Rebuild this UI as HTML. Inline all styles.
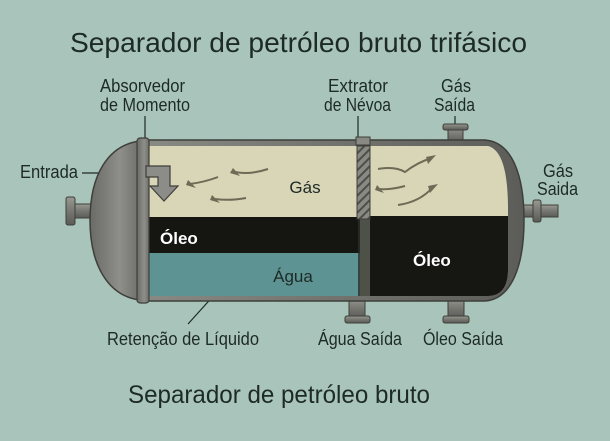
<!DOCTYPE html>
<html><head><meta charset="utf-8"><style>
html,body{margin:0;padding:0;background:#a9c5bb;}
svg{display:block;}
text{font-family:"Liberation Sans",sans-serif;}
</style></head><body>
<svg width="610" height="441" viewBox="0 0 610 441" xmlns="http://www.w3.org/2000/svg">
<defs>
<linearGradient id="steel" x1="0" y1="0" x2="0" y2="1">
<stop offset="0" stop-color="#9a9a94"/><stop offset="0.4" stop-color="#7d7d78"/><stop offset="1" stop-color="#5a5a56"/>
</linearGradient>
<linearGradient id="capL" x1="0" y1="0" x2="1" y2="0">
<stop offset="0" stop-color="#6a6a66"/><stop offset="0.6" stop-color="#8f8f8a"/><stop offset="1" stop-color="#6e6e6a"/>
</linearGradient>
<linearGradient id="capR" x1="0" y1="0" x2="1" y2="0">
<stop offset="0" stop-color="#8a8a85"/><stop offset="1" stop-color="#5c5c58"/>
</linearGradient>
<pattern id="hatch" width="6" height="6" patternUnits="userSpaceOnUse" patternTransform="rotate(45)">
<rect width="6" height="6" fill="#8a8a84"/><rect width="2" height="6" fill="#4e4e4a"/>
</pattern>
</defs>
<rect width="610" height="441" fill="#a9c5bb"/>
<text x="70" y="52" font-size="28" fill="#1d2a26" textLength="457" lengthAdjust="spacingAndGlyphs">Separador de petróleo bruto trifásico</text>

<g font-size="18" fill="#1d2a26">
<text x="100" y="92" textLength="85" lengthAdjust="spacingAndGlyphs">Absorvedor</text>
<text x="100" y="111" textLength="90" lengthAdjust="spacingAndGlyphs">de Momento</text>
<text x="328" y="92" textLength="60" lengthAdjust="spacingAndGlyphs">Extrator</text>
<text x="324" y="111" textLength="67" lengthAdjust="spacingAndGlyphs">de Névoa</text>
<text x="441" y="92" textLength="30" lengthAdjust="spacingAndGlyphs">Gás</text>
<text x="434" y="111" textLength="41" lengthAdjust="spacingAndGlyphs">Saída</text>
<text x="543" y="177" textLength="30" lengthAdjust="spacingAndGlyphs">Gás</text>
<text x="537" y="195" textLength="41" lengthAdjust="spacingAndGlyphs">Saida</text>
<text x="20" y="178" textLength="58" lengthAdjust="spacingAndGlyphs">Entrada</text>
<text x="107" y="345" textLength="152" lengthAdjust="spacingAndGlyphs">Retenção de Líquido</text>
<text x="318" y="345" textLength="84" lengthAdjust="spacingAndGlyphs">Água Saída</text>
<text x="423" y="345" textLength="80" lengthAdjust="spacingAndGlyphs">Óleo Saída</text>
</g>
<text x="128" y="403" font-size="25" fill="#1d2a26" textLength="302" lengthAdjust="spacingAndGlyphs">Separador de petróleo bruto</text>

<g stroke="#1d2a26" stroke-width="1.2">
<line x1="145" y1="116" x2="145" y2="141"/>
<line x1="358" y1="116" x2="358" y2="141"/>
<line x1="455" y1="116" x2="455" y2="126"/>
<line x1="82" y1="173" x2="105" y2="173"/>
<line x1="188" y1="324" x2="225" y2="283"/>
</g>

<rect x="70" y="204" width="30" height="14" fill="url(#steel)" stroke="#3e3e3a"/>
<rect x="66" y="197" width="9" height="28" rx="2" fill="url(#steel)" stroke="#3e3e3a"/>
<rect x="518" y="205" width="40" height="12" fill="url(#steel)" stroke="#3e3e3a"/>
<rect x="533" y="200" width="8" height="22" rx="2" fill="url(#steel)" stroke="#3e3e3a"/>
<rect x="448" y="127" width="15" height="16" fill="url(#steel)" stroke="#3e3e3a"/>
<rect x="443" y="124" width="25" height="6" rx="2" fill="url(#steel)" stroke="#3e3e3a"/>
<rect x="349" y="298" width="16" height="20" fill="url(#steel)" stroke="#3e3e3a"/>
<rect x="345" y="316" width="25" height="7" rx="2" fill="url(#steel)" stroke="#3e3e3a"/>
<rect x="448" y="298" width="16" height="20" fill="url(#steel)" stroke="#3e3e3a"/>
<rect x="443" y="316" width="26" height="7" rx="2" fill="url(#steel)" stroke="#3e3e3a"/>

<path d="M140,141 C108,145 90,175 90,220 C90,265 108,296 140,300 Z" fill="url(#capL)" stroke="#3e3e3a" stroke-width="1.5"/>
<path d="M140,140 H485 C512,142 524,175 524,220 C524,265 512,299 485,301 H140 Z" fill="url(#capR)" stroke="#3e3e3a" stroke-width="1.5"/>
<path d="M146,146 H488 C503,150 508,175 508,210 V270 C508,288 500,296 488,296 H146 Z" fill="#d9d5b7"/>
<rect x="146" y="217" width="214" height="36" fill="#151512"/>
<rect x="146" y="253" width="214" height="43" fill="#5e9393"/>
<path d="M370,216 H508 V270 C508,288 500,296 488,296 H370 Z" fill="#161613"/>
<rect x="358" y="217" width="12" height="79" fill="#2a302c" opacity="0.8"/>
<rect x="137" y="138" width="12" height="165" rx="3" fill="url(#capL)" stroke="#3e3e3a" stroke-width="1.2"/>
<rect x="356" y="137" width="14" height="8" fill="#8a8a84" stroke="#3e3e3a"/>
<rect x="357" y="146" width="13" height="73" fill="url(#hatch)" stroke="#3e3e3a"/>
<path d="M146,166 H170 V186 H178 L164,201 L150,186 H158 V177 H146 Z" fill="#8c8c88" stroke="#3e3e3a" stroke-width="1.2"/>
<g stroke="#6e6a56" stroke-width="2" fill="none">
<path d="M268,169 Q250,175 235,172"/><path d="M218,177 Q205,182 190,184"/><path d="M246,198 Q230,201 215,199"/>
<path d="M378,169 Q395,166 405,172 Q418,162 432,158"/><path d="M405,186 Q390,190 380,189"/><path d="M398,205 Q420,202 433,187"/>
</g>
<g fill="#6e6a56">
<path d="M233,168 L240,176 L230,173Z"/><path d="M188,180 L196,188 L186,185Z"/><path d="M212,195 L220,203 L210,200Z"/>
<path d="M436,155 L428,164 L426,157Z"/><path d="M377,185 L384,193 L375,190Z"/><path d="M438,184 L430,193 L428,186Z"/>
</g>
<g font-weight="bold" fill="#fff" font-size="17">
<text x="160" y="244">Óleo</text>
<text x="413" y="266">Óleo</text>
</g>
<text x="305" y="193" font-size="17" fill="#1d2a26" text-anchor="middle">Gás</text>
<text x="293" y="282" font-size="17" fill="#1d2a26" text-anchor="middle">Água</text>
</svg>
</body></html>
